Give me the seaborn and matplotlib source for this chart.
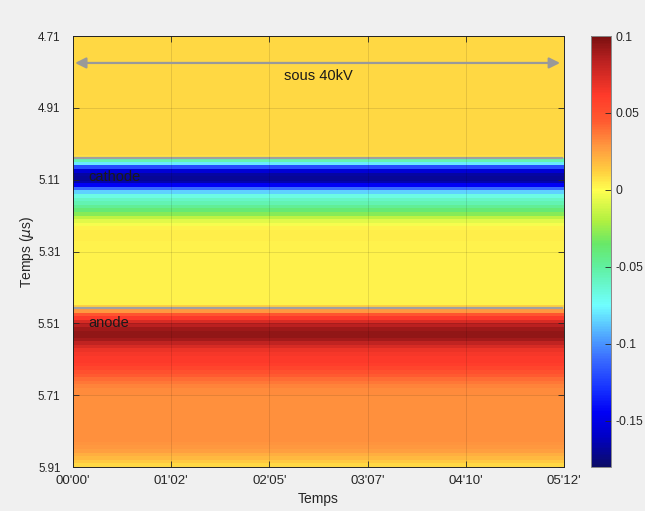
import numpy as np
import pandas as pd
import seaborn as sns
import matplotlib.pyplot as plt
from matplotlib.colors import LinearSegmentedColormap

# profile of the signal along the delay axis (one value per 0.01 us row, 4.71 -> 5.91 us)
row_values = [
    0.010, 0.010, 0.010, 0.010, 0.010, 0.010, 0.010, 0.010, 0.010, 0.010,
    0.010, 0.010, 0.010, 0.010, 0.010, 0.010, 0.010, 0.010, 0.010, 0.010,
    0.010, 0.010, 0.010, 0.010, 0.010, 0.010, 0.010, 0.010, 0.010, 0.010,
    0.010, 0.010, 0.010, 0.008,
    -0.055, -0.080, -0.120, -0.155, -0.167, -0.170, -0.165, -0.145, -0.110, -0.085,
    -0.068, -0.060, -0.055, -0.047, -0.038, -0.028, -0.017, -0.008, -0.002, 0.003,
    0.004, 0.004, 0.004, 0.003, 0.003, 0.003, 0.003, 0.003, 0.003, 0.003,
    0.003, 0.003, 0.003, 0.003, 0.003, 0.003, 0.003, 0.003, 0.003, 0.003,
    0.003, 0.012,
    0.028, 0.048, 0.062, 0.074, 0.084, 0.091, 0.094, 0.094, 0.090, 0.082,
    0.074, 0.068, 0.064, 0.062, 0.062, 0.060, 0.056, 0.050, 0.045, 0.040,
    0.037, 0.034, 0.032, 0.032, 0.031, 0.031, 0.031, 0.031, 0.031, 0.031,
    0.031, 0.031, 0.031, 0.031, 0.031, 0.031, 0.031, 0.030, 0.028, 0.026,
    0.022, 0.018, 0.014, 0.010,
]
n_seconds = 312  # acquisition duration, one column per second

y_tick_labels = ["4.71", "4.91", "5.11", "5.31", "5.51", "5.71", "5.91"]
y_tick_values = [4.71, 4.91, 5.11, 5.31, 5.51, 5.71, 5.91]
x_tick_labels = ["00'00'", "01'02'", "02'05'", "03'07'", "04'10'", "05'12'"]
x_tick_seconds = [0, 62.4, 124.8, 187.2, 249.6, 312]
cbar_ticks = [0.1, 0.05, 0, -0.05, -0.1, -0.15]
cbar_labels = ["0.1", "0.05", "0", "-0.05", "-0.1", "-0.15"]

t0, dt = 4.71, 0.01
electrode_lines = [5.049, 5.466]
arrow_y = 4.785

plt.rcParams['font.family'] = ['Liberation Sans', 'DejaVu Sans']
plt.rcParams['mathtext.fontset'] = 'dejavusans'

# jet-like colormap, slightly lighter than matplotlib's
stops = [
    (0.000, "#0c0c66"), (0.071, "#0000c8"), (0.125, "#0000f5"), (0.179, "#1530ff"),
    (0.250, "#3a6cff"), (0.304, "#50a8ff"), (0.375, "#70ffff"), (0.464, "#60f0a0"),
    (0.518, "#68e868"), (0.571, "#b0f040"), (0.643, "#ffff50"), (0.686, "#ffd040"),
    (0.743, "#ff9a40"), (0.804, "#ff5a30"), (0.864, "#ff3a2a"), (0.946, "#b82020"),
    (1.000, "#7a1010"),
]
cmap = LinearSegmentedColormap.from_list("jetlight", stops)

data = pd.DataFrame(np.tile(np.array(row_values)[:, None], (1, n_seconds)))

fig = plt.figure(figsize=(6.45, 5.11), dpi=100, facecolor="#f0f0f0")
ax = fig.add_axes([0.1132, 0.0861, 0.7612, 0.8434])
cax = fig.add_axes([0.9163, 0.0861, 0.031, 0.8434])

sns.heatmap(data, cmap=cmap, vmin=-0.18, vmax=0.1, ax=ax, cbar_ax=cax,
            xticklabels=False, yticklabels=False)

ax.set_xticks(x_tick_seconds)
ax.set_xticklabels(x_tick_labels)
ax.set_yticks([(v - t0) / dt for v in y_tick_values])
ax.set_yticklabels(y_tick_labels, rotation=0)
ax.tick_params(direction="in", length=4, width=0.6, colors="#262626",
               top=True, right=True)
ax.tick_params(axis="x", labelsize=9.5, pad=6)
ax.tick_params(axis="y", labelsize=8.4, pad=9)
for s in ax.spines.values():
    s.set_visible(True)
    s.set_color("#262626")
    s.set_linewidth(0.7)
ax.set_axisbelow(False)
ax.grid(True, color="k", alpha=0.12, linewidth=0.6)

ax.set_xlabel("Temps", fontsize=10, color="#262626", labelpad=3)
ax.set_ylabel("Temps ($\\mu$s)", fontsize=10, color="#262626")
ax.yaxis.set_label_coords(-0.076, 0.5)

for yl in electrode_lines:
    ax.axhline((yl - t0) / dt, xmin=0, xmax=0.996, color="#a0a0a0", linewidth=1.6)

ya = (arrow_y - t0) / dt
ax.annotate("", xy=(1.3, ya), xytext=(309.5, ya),
            arrowprops=dict(arrowstyle="<|-|>", color="#999999", lw=1.6,
                            mutation_scale=16, shrinkA=0, shrinkB=0))
ax.text(156, ya + 3.6, "sous 40kV", ha="center", va="center", fontsize=10.5, color="#1a1a1a")
ax.text(9.5, (5.103 - t0) / dt, "cathode", ha="left", va="center", fontsize=10.5, color="#1a1a1a")
ax.text(9.5, (5.509 - t0) / dt, "anode", ha="left", va="center", fontsize=10.5, color="#1a1a1a")

cbar = ax.collections[0].colorbar
cbar.set_ticks(cbar_ticks)
cbar.set_ticklabels(cbar_labels)
cbar.ax.tick_params(direction="in", length=4, width=0.6, colors="#262626",
                    labelsize=8.8, pad=3)
cbar.outline.set_edgecolor("#888888")
cbar.outline.set_linewidth(0.7)

fig.savefig("out.png", dpi=100, facecolor=fig.get_facecolor())
